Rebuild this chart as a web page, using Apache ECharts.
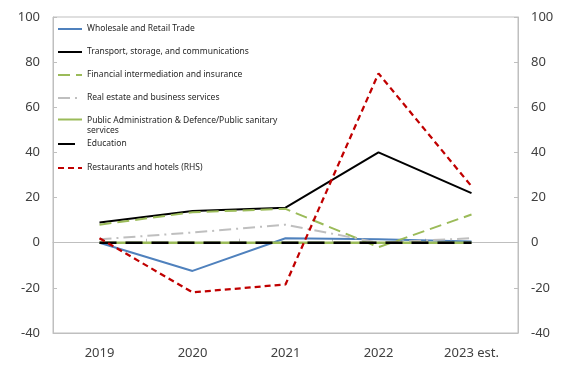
<!DOCTYPE html>
<html>
<head>
<meta charset="utf-8">
<script src="https://cdn.jsdelivr.net/npm/echarts@6/dist/echarts.min.js"></script>
<style>
  html, body { margin: 0; padding: 0; background: #fff; }
  #chart { width: 565px; height: 366px; }
</style>
</head>
<body>
<div id="chart"></div>
<script>
const years = ['2019', '2020', '2021', '2022', '2023 est.'];

const wholesale = [0, -12.5, 2, 1.5, 0.5];
const transport = [9, 14, 15.5, 40, 22];
const financial = [8, 13.5, 15, -2, 12.5];
const realEstate = [1.5, 4.5, 8, 0, 2];
const publicAdmin = [0, 0, 0, 0, 0];
const education = [0, 0, 0, 0, 0];
const restaurants = [2, -22, -18.5, 75, 25];

const names = {
  wholesale: 'Wholesale and Retail Trade',
  transport: 'Transport, storage, and communications',
  financial: 'Financial intermediation and insurance',
  realEstate: 'Real estate and business services',
  publicAdmin: 'Public Administration & Defence/Public sanitary\nservices',
  education: 'Education',
  restaurants: 'Restaurants and hotels (RHS)'
};

const FONT = 'Noto Sans';
const AXIS_GRAY = '#bfbfbf';
const LABEL_COLOR = '#404040';

function line(name, data, color, width, type, yIdx) {
  return {
    name: name,
    type: 'line',
    data: data,
    yAxisIndex: yIdx || 0,
    symbol: 'none',
    silent: true,
    lineStyle: { color: color, width: width, type: type },
    itemStyle: { color: color }
  };
}

const legendText = { fontFamily: FONT, fontSize: 8.5, color: '#262626', lineHeight: 12 };
function legendBlock(items, top, extra) {
  return Object.assign({
    data: items,
    orient: 'vertical',
    left: 57,
    top: top,
    padding: 0,
    itemWidth: 24,
    itemHeight: 12,
    itemGap: 11,
    itemStyle: { opacity: 0 },
    textStyle: legendText,
    selectedMode: false
  }, extra || {});
}

// Two-line entry: the first line sits level with the legend line sample
const wrappedLegendText = Object.assign({}, legendText, {
  rich: {
    first: { fontFamily: FONT, fontSize: 8.5, color: '#262626', lineHeight: 23, verticalAlign: 'bottom' },
    rest: { fontFamily: FONT, fontSize: 8.5, color: '#262626', lineHeight: 12 }
  }
});
function wrappedFormatter(name) {
  const parts = name.split('\n');
  return '{first|' + parts[0] + '}\n{rest|' + parts.slice(1).join(' ') + '}';
}

const yAxisBase = {
  type: 'value',
  min: -40,
  max: 100,
  interval: 20,
  axisLine: { show: true, lineStyle: { color: AXIS_GRAY } },
  axisTick: { show: true, inside: true, length: 4, lineStyle: { color: AXIS_GRAY } },
  splitLine: { show: false },
  axisLabel: { fontFamily: FONT, fontSize: 13, color: LABEL_COLOR, margin: 13 }
};

const chart = echarts.init(document.getElementById('chart'), null, { renderer: 'canvas' });
chart.setOption({
  animation: false,
  backgroundColor: '#fff',
  grid: {
    left: 53, right: 47, top: 17, bottom: 33,
    show: true, borderColor: AXIS_GRAY, borderWidth: 1
  },
  legend: [
    legendBlock([names.wholesale, names.transport, names.financial, names.realEstate], 23),
    legendBlock([names.publicAdmin], 102, {
      textStyle: wrappedLegendText,
      formatter: wrappedFormatter
    }),
    legendBlock([names.education, names.restaurants], 138, { itemGap: 12 })
  ],
  xAxis: [
    {
      type: 'category',
      data: years,
      boundaryGap: true,
      position: 'bottom',
      axisLine: { show: true, onZero: false, lineStyle: { color: AXIS_GRAY } },
      axisTick: { show: false },
      axisLabel: { fontFamily: FONT, fontSize: 13, color: LABEL_COLOR, margin: 14 }
    },
    {
      type: 'category',
      data: years,
      boundaryGap: true,
      position: 'top',
      axisLine: { show: true, onZero: true, lineStyle: { color: AXIS_GRAY } },
      axisTick: { show: true, inside: false, length: 4, lineStyle: { color: AXIS_GRAY } },
      axisLabel: { show: false }
    }
  ],
  yAxis: [
    Object.assign({}, yAxisBase, { position: 'left' }),
    Object.assign({}, yAxisBase, { position: 'right' })
  ],
  series: [
    line(names.wholesale, wholesale, '#4f81bd', 2, 'solid'),
    line(names.transport, transport, '#000000', 2, 'solid'),
    line(names.financial, financial, '#9bbb59', 2, [12, 6]),
    line(names.realEstate, realEstate, '#bfbfbf', 2, [12, 5, 2, 5]),
    line(names.publicAdmin, publicAdmin, '#9bbb59', 2.5, 'solid'),
    line(names.education, education, '#000000', 2.5, [17, 9]),
    line(names.restaurants, restaurants, '#c00000', 2.25, [6, 4], 1)
  ]
});
</script>
</body>
</html>
